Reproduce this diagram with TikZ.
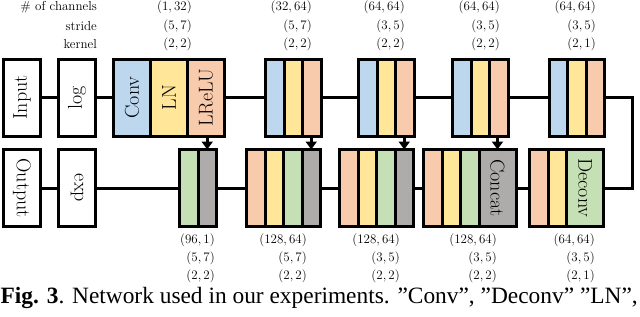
\documentclass[tikz,border=0pt]{standalone}
\usepackage{fontspec}
\newfontfamily\capfont{Liberation Serif}
\usetikzlibrary{arrows.meta}
\definecolor{cblue}{HTML}{BDD7EE}
\definecolor{cyel}{HTML}{FFE699}
\definecolor{cred}{HTML}{F8CBAD}
\definecolor{cgreen}{HTML}{C5E0B4}
\definecolor{cgray}{HTML}{AEABAB}
\newcommand{\pr}[2]{(#1,\,#2)}
\begin{document}
\begin{tikzpicture}[x=1pt,y=-1pt,
  box/.style={draw, line width=3pt, outer sep=0pt, inner sep=0pt, minimum height=77pt, font=\fontsize{20}{24}\selectfont},
  nar/.style={box, minimum width=18.5pt, anchor=west},
  wid/.style={box, minimum width=37pt, anchor=west},
  wire/.style={line width=3pt},
  arr/.style={line width=3pt, -{Triangle[width=11pt,length=8pt]}},
  lab/.style={inner sep=0pt, anchor=east, font=\fontsize{13}{15}\selectfont}
]
\useasboundingbox (0,0) rectangle (640,316);

% top row
\node[wid, fill=white] (in) at (3.5,97.5) {\rotatebox{90}{Input}};
\node[wid, fill=white] (lg) at (58.5,97.5) {\rotatebox{90}{log}};
\node[wid, fill=cblue] (g1a) at (113.5,97.5) {\rotatebox{90}{Conv}};
\node[wid, fill=cyel] (g1b) at (g1a.east) {\rotatebox{90}{LN}};
\node[wid, fill=cred] (g1c) at (g1b.east) {\rotatebox{90}{LReLU}};

\node[nar, fill=cblue] (b2a) at (265.5,97.5) {};
\node[nar, fill=cyel] (b2b) at (b2a.east) {};
\node[nar, fill=cred] (b2c) at (b2b.east) {};

\node[nar, fill=cblue] (b3a) at (358.5,97.5) {};
\node[nar, fill=cyel] (b3b) at (b3a.east) {};
\node[nar, fill=cred] (b3c) at (b3b.east) {};

\node[nar, fill=cblue] (b4a) at (452.5,97.5) {};
\node[nar, fill=cyel] (b4b) at (b4a.east) {};
\node[nar, fill=cred] (b4c) at (b4b.east) {};

\node[nar, fill=cblue] (b5a) at (549,97.5) {};
\node[nar, fill=cyel] (b5b) at (b5a.east) {};
\node[nar, fill=cred] (b5c) at (b5b.east) {};

% bottom row
\node[wid, fill=white] (out) at (3.5,188) {\rotatebox{-90}{Output}};
\node[wid, fill=white] (ex) at (58.5,188) {\rotatebox{-90}{exp}};

\node[nar, fill=cgreen] (l1a) at (179.5,188) {};
\node[nar, fill=cgray] (l1b) at (l1a.east) {};

\node[nar, fill=cred] (l2a) at (246.5,188) {};
\node[nar, fill=cyel] (l2b) at (l2a.east) {};
\node[nar, fill=cgreen] (l2c) at (l2b.east) {};
\node[nar, fill=cgray] (l2d) at (l2c.east) {};

\node[nar, fill=cred] (l3a) at (339.5,188) {};
\node[nar, fill=cyel] (l3b) at (l3a.east) {};
\node[nar, fill=cgreen] (l3c) at (l3b.east) {};
\node[nar, fill=cgray] (l3d) at (l3c.east) {};

\node[nar, fill=cred] (l4a) at (423.5,188) {};
\node[nar, fill=cyel] (l4b) at (l4a.east) {};
\node[nar, fill=cgreen] (l4c) at (l4b.east) {};
\node[wid, fill=cgray] (l4d) at (l4c.east) {\rotatebox{-90}{Concat}};

\node[nar, fill=cred] (l5a) at (529.5,188) {};
\node[nar, fill=cyel] (l5b) at (l5a.east) {};
\node[wid, fill=cgreen] (l5c) at (l5b.east) {\rotatebox{-90}{Deconv}};

% wires
\draw[wire] (in) -- (lg);
\draw[wire] (lg) -- (g1a);
\draw[wire] (g1c.east) -- (b2a.west);
\draw[wire] (b2c.east) -- (b3a.west);
\draw[wire] (b3c.east) -- (b4a.west);
\draw[wire] (b4c.east) -- (b5a.west);
\coordinate (xr) at (632,143);
\draw[wire] (b5c.east) -| (xr) |- (l5c.east);
\draw[wire] (out) -- (ex);
\draw[wire] (ex) -- (l1a);
\draw[wire] (l1b.east) -- (l2a.west);
\draw[wire] (l2d.east) -- (l3a.west);
\draw[wire] (l3d.east) -- (l4a.west);
\draw[wire] (l4d.east) -- (l5a.west);

% skip arrows
\draw[arr] (g1c.south -| l1b) -- (l1b.north);
\draw[arr] (b2c.south -| l2d) -- (l2d.north);
\draw[arr] (b3c.south -| l3d) -- (l3d.north);
\draw[arr] (b4c.south -| l4d) -- (l4d.north);

% header labels
\node[lab] (h1) at (97,7) {\# of channels};
\node[lab] (h2) at (97,26) {stride};
\node[lab] (h3) at (97,44) {kernel};

\node[lab] (t1a) at (192,7) {\pr{1}{32}};
\node[lab] (t1b) at (192,26) {\pr{5}{7}};
\node[lab] (t1c) at (192,44) {\pr{2}{2}};
\node[lab] (t2a) at (312,7) {\pr{32}{64}};
\node[lab] (t2b) at (312,26) {\pr{5}{7}};
\node[lab] (t2c) at (312,44) {\pr{2}{2}};
\node[lab] (t3a) at (405,7) {\pr{64}{64}};
\node[lab] (t3b) at (405,26) {\pr{3}{5}};
\node[lab] (t3c) at (405,44) {\pr{2}{2}};
\node[lab] (t4a) at (500,7) {\pr{64}{64}};
\node[lab] (t4b) at (500,26) {\pr{3}{5}};
\node[lab] (t4c) at (500,44) {\pr{2}{2}};
\node[lab] (t5a) at (596,7) {\pr{64}{64}};
\node[lab] (t5b) at (596,26) {\pr{3}{5}};
\node[lab] (t5c) at (596,44) {\pr{2}{1}};

\node[lab] (u1a) at (215,240) {\pr{96}{1}};
\node[lab] (u1b) at (215,258) {\pr{5}{7}};
\node[lab] (u1c) at (215,276) {\pr{2}{2}};
\node[lab] (u2a) at (307,240) {\pr{128}{64}};
\node[lab] (u2b) at (307,258) {\pr{5}{7}};
\node[lab] (u2c) at (307,276) {\pr{2}{2}};
\node[lab] (u3a) at (400,240) {\pr{128}{64}};
\node[lab] (u3b) at (400,258) {\pr{3}{5}};
\node[lab] (u3c) at (400,276) {\pr{2}{2}};
\node[lab] (u4a) at (497,240) {\pr{128}{64}};
\node[lab] (u4b) at (497,258) {\pr{3}{5}};
\node[lab] (u4c) at (497,276) {\pr{2}{2}};
\node[lab] (u5a) at (595,240) {\pr{64}{64}};
\node[lab] (u5b) at (595,258) {\pr{3}{5}};
\node[lab] (u5c) at (595,276) {\pr{2}{1}};

% caption
\node[inner sep=0pt, anchor=west] (cap) at (0.5,298) {\resizebox{637pt}{!}{\capfont\textbf{Fig. 3}. Network used in our experiments. ”Conv”, ”Deconv” ”LN”,}};
\end{tikzpicture}
\end{document}
